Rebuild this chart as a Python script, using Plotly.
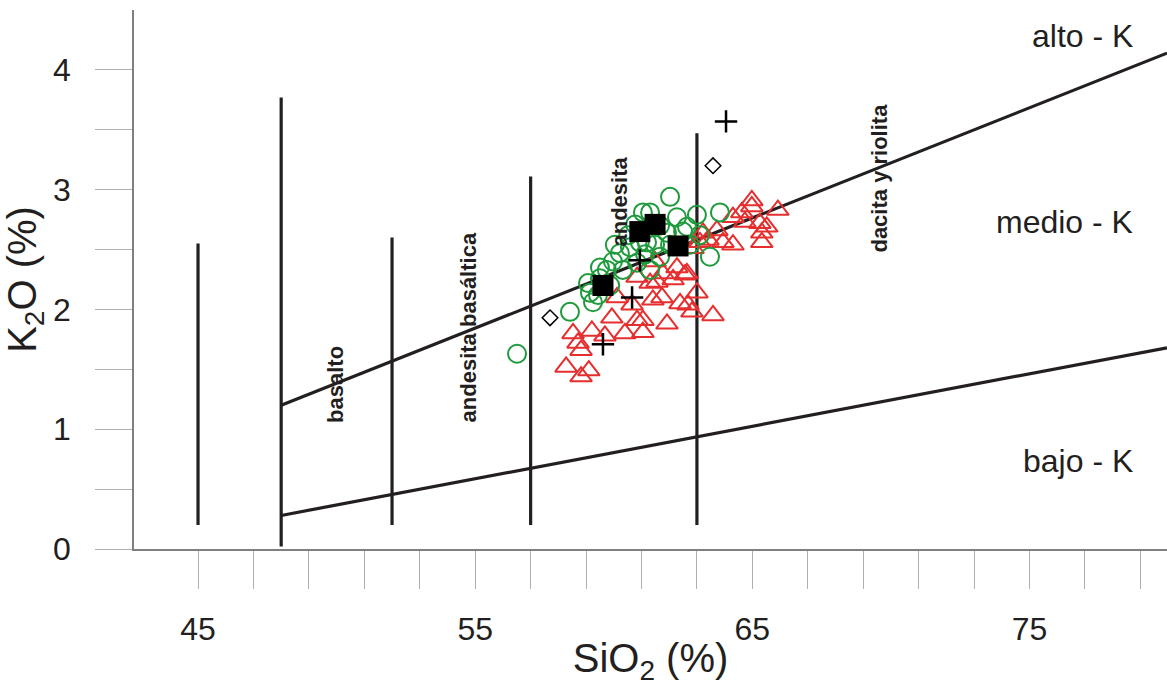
import plotly.graph_objects as go

# ---- data ----
tri_x = [58.28, 58.82, 59.10, 58.53, 59.21, 58.71, 58.82, 59.68, 60.40, 60.84, 60.12,
         60.84, 61.31, 61.56, 62.14, 62.57, 61.74, 61.41, 62.39, 62.68, 63.00, 62.82,
         63.58, 61.92, 61.05, 61.05, 60.66, 62.28, 61.77, 62.64, 63.11, 63.40, 63.72,
         63.94, 64.30, 62.86, 64.98, 64.98, 64.62, 65.92, 65.27, 65.52, 65.34, 65.34,
         64.30, 64.73, 59.93, 63.22, 61.49]
tri_y = [1.52, 1.44, 1.49, 1.80, 1.82, 1.72, 1.66, 1.78, 1.80, 1.91, 2.10,
         2.27, 2.22, 2.23, 2.25, 2.29, 2.10, 2.08, 2.05, 2.04, 2.14, 1.98,
         1.95, 1.88, 1.91, 1.81, 2.04, 2.35, 2.30, 2.30, 2.56, 2.58, 2.66,
         2.56, 2.77, 2.51, 2.91, 2.86, 2.81, 2.83, 2.72, 2.69, 2.64, 2.56,
         2.54, 2.73, 1.93, 2.64, 2.40]

cir_x = [56.51, 58.42, 59.14, 59.25, 59.07, 59.50, 59.75, 59.97, 60.22, 60.58,
         60.94, 60.33, 60.84, 59.50, 60.04, 61.05, 61.31, 62.03, 62.28, 63.00,
         63.83, 62.50, 61.92, 61.67, 61.20, 61.67, 61.31, 63.47, 62.64, 60.52,
         61.49, 63.11, 59.87, 61.13, 62.03, 62.75, 59.43, 60.77]
cir_y = [1.63, 1.98, 2.14, 2.06, 2.22, 2.26, 2.33, 2.40, 2.47, 2.52,
         2.56, 2.33, 2.39, 2.35, 2.54, 2.81, 2.81, 2.94, 2.77, 2.79,
         2.81, 2.65, 2.64, 2.70, 2.56, 2.44, 2.33, 2.44, 2.69, 2.62,
         2.54, 2.62, 2.20, 2.46, 2.54, 2.54, 2.12, 2.71]

sq_x = [59.61, 60.94, 61.49, 62.32]
sq_y = [2.20, 2.65, 2.71, 2.53]

cross_x = [64.05, 59.61, 60.66, 60.94]
cross_y = [3.57, 1.71, 2.10, 2.41]

dia_x = [57.70, 63.58]
dia_y = [1.93, 3.20]

# rock-type boundaries (SiO2 value, bottom K2O, top K2O)
bound_x = [45, 48, 52, 57, 63]
bound_lo = [0.2, 0.02, 0.2, 0.2, 0.2]
bound_hi = [2.55, 3.77, 2.6, 3.11, 3.47]

# K-series boundaries
highk_x = [48, 79.96]
highk_y = [1.2, 4.14]
lowk_x = [48, 79.96]
lowk_y = [0.28, 1.68]

rock_labels = ["basalto", "andesita basáltica", "andesita", "dacita y riolita"]
rock_lx = [49.98, 54.74, 60.22, 69.60]
rock_ly = [1.37, 1.85, 2.90, 3.10]

series_labels = ["alto - K", "medio - K", "bajo - K"]
series_ly = [4.28, 2.73, 0.735]

x_labels = [45, 55, 65, 75]
x_minor = [47, 49, 51, 53, 57, 59, 61, 63, 67, 69, 71, 73, 77, 79]
y_labels = [0, 1, 2, 3, 4]
y_minor = [0.5, 1.5, 2.5, 3.5]

FONT = "Arial, Liberation Sans, sans-serif"
LINE = "#231f20"
TXT = "#231f20"

fig = go.Figure()

# boundary verticals
vx, vy = [], []
for x, lo, hi in zip(bound_x, bound_lo, bound_hi):
    vx += [x, x, None]
    vy += [lo, hi, None]
fig.add_trace(go.Scatter(x=vx, y=vy, mode="lines",
                         line=dict(color=LINE, width=3.2), hoverinfo="skip"))
fig.add_trace(go.Scatter(x=highk_x, y=highk_y, mode="lines",
                         line=dict(color=LINE, width=3.2), hoverinfo="skip"))
fig.add_trace(go.Scatter(x=lowk_x, y=lowk_y, mode="lines",
                         line=dict(color=LINE, width=3.2), hoverinfo="skip"))

fig.add_trace(go.Scatter(x=tri_x, y=tri_y, mode="markers",
                         marker=dict(symbol="triangle-up-open", size=19,
                                     color="#e62e2e", line=dict(width=2))))
fig.add_trace(go.Scatter(x=cir_x, y=cir_y, mode="markers",
                         marker=dict(symbol="circle-open", size=18,
                                     color="#1f9a3c", line=dict(width=2))))
fig.add_trace(go.Scatter(x=dia_x, y=dia_y, mode="markers",
                         marker=dict(symbol="diamond-open", size=12,
                                     color="black", line=dict(width=1.5))))
fig.add_trace(go.Scatter(x=cross_x, y=cross_y, mode="markers",
                         marker=dict(symbol="cross-thin-open", size=16,
                                     color="black", line=dict(width=2.5))))
fig.add_trace(go.Scatter(x=sq_x, y=sq_y, mode="markers",
                         marker=dict(symbol="square", size=21, color="black")))

for t, x, y in zip(rock_labels, rock_lx, rock_ly):
    fig.add_annotation(x=x, y=y, text="<b>%s</b>" % t, showarrow=False,
                       textangle=-90, font=dict(family=FONT, size=22, color=TXT))

for t, y in zip(series_labels, series_ly):
    fig.add_annotation(x=0.969, xref="paper", y=y, text=t, showarrow=False,
                       xanchor="right", font=dict(family=FONT, size=32, color=TXT))

fig.update_layout(
    width=1167, height=686,
    margin=dict(l=134, r=0, t=10, b=137),
    paper_bgcolor="white", plot_bgcolor="white",
    showlegend=False,
    font=dict(family=FONT, color=TXT),
    xaxis=dict(range=[42.69, 79.96], showgrid=False, zeroline=False,
               showline=True, linecolor="#808080", linewidth=1.5,
               ticks="outside", ticklen=38, tickcolor="#b0b0b0", tickwidth=1,
               tickvals=x_labels, ticktext=[str(v) for v in x_labels],
               ticklabelstandoff=13,
               minor=dict(tickvals=x_minor, ticks="outside", ticklen=38,
                          tickcolor="#b0b0b0", tickwidth=1),
               tickfont=dict(size=32, family=FONT, color=TXT),
               title=dict(text="SiO<sub>2</sub> (%)", standoff=6,
                          font=dict(size=40, family=FONT, color=TXT))),
    yaxis=dict(range=[0, 4.5], showgrid=False, zeroline=False,
               showline=True, linecolor="#808080", linewidth=1.5,
               ticks="outside", ticklen=37, tickcolor="#b0b0b0", tickwidth=1,
               tickvals=y_labels, ticktext=[str(v) for v in y_labels],
               ticklabelstandoff=18,
               minor=dict(tickvals=y_minor, ticks="outside", ticklen=37,
                          tickcolor="#b0b0b0", tickwidth=1),
               tickfont=dict(size=32, family=FONT, color=TXT),
               title=dict(text="K<sub>2</sub>O (%)", standoff=10,
                          font=dict(size=40, family=FONT, color=TXT))),
)

fig.write_html("out.html")
